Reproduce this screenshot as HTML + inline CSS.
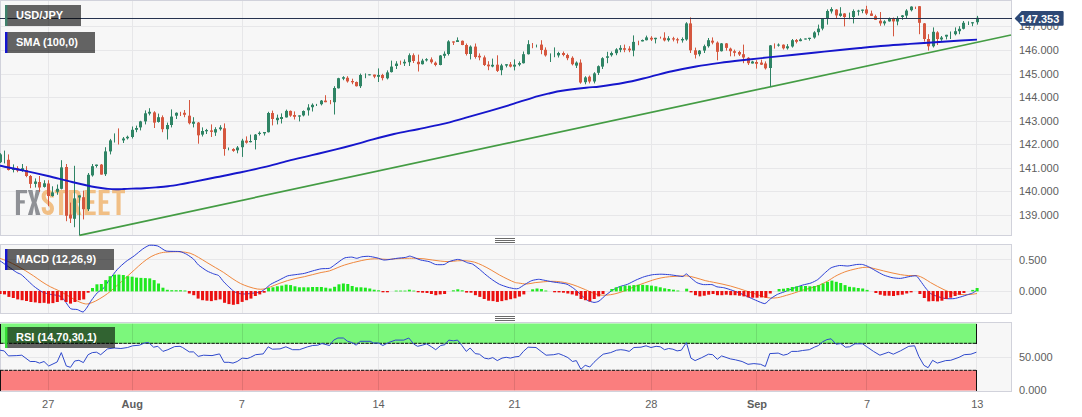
<!DOCTYPE html>
<html><head><meta charset="utf-8"><title>USD/JPY</title>
<style>html,body{margin:0;padding:0;background:#fff;}body{width:1082px;height:417px;overflow:hidden;font-family:"Liberation Sans",sans-serif;}svg{display:block;}</style>
</head><body>
<svg width="1082" height="417" viewBox="0 0 1082 417">
<rect x="0" y="0" width="1082" height="417" fill="#fff"/>
<g fill="#f7f7f7" stroke="#d1d2db" stroke-width="1">
<rect x="0.5" y="0.5" width="1011" height="235"/>
<rect x="0.5" y="244.5" width="1011" height="69"/>
<rect x="0.5" y="322.5" width="1011" height="69"/>
</g>
<g stroke="#e7e7e9" stroke-width="1" shape-rendering="crispEdges">
<line x1="48.5" y1="1" x2="48.5" y2="235"/>
<line x1="48.5" y1="245" x2="48.5" y2="313"/>
<line x1="48.5" y1="323" x2="48.5" y2="391"/>
<line x1="132.5" y1="1" x2="132.5" y2="235"/>
<line x1="132.5" y1="245" x2="132.5" y2="313"/>
<line x1="132.5" y1="323" x2="132.5" y2="391"/>
<line x1="242.5" y1="1" x2="242.5" y2="235"/>
<line x1="242.5" y1="245" x2="242.5" y2="313"/>
<line x1="242.5" y1="323" x2="242.5" y2="391"/>
<line x1="378.5" y1="1" x2="378.5" y2="235"/>
<line x1="378.5" y1="245" x2="378.5" y2="313"/>
<line x1="378.5" y1="323" x2="378.5" y2="391"/>
<line x1="514.5" y1="1" x2="514.5" y2="235"/>
<line x1="514.5" y1="245" x2="514.5" y2="313"/>
<line x1="514.5" y1="323" x2="514.5" y2="391"/>
<line x1="651.5" y1="1" x2="651.5" y2="235"/>
<line x1="651.5" y1="245" x2="651.5" y2="313"/>
<line x1="651.5" y1="323" x2="651.5" y2="391"/>
<line x1="756.5" y1="1" x2="756.5" y2="235"/>
<line x1="756.5" y1="245" x2="756.5" y2="313"/>
<line x1="756.5" y1="323" x2="756.5" y2="391"/>
<line x1="866.5" y1="1" x2="866.5" y2="235"/>
<line x1="866.5" y1="245" x2="866.5" y2="313"/>
<line x1="866.5" y1="323" x2="866.5" y2="391"/>
<line x1="976.5" y1="1" x2="976.5" y2="235"/>
<line x1="976.5" y1="245" x2="976.5" y2="313"/>
<line x1="976.5" y1="323" x2="976.5" y2="391"/>
<line x1="1" y1="26.5" x2="1011" y2="26.5"/>
<line x1="1" y1="50.5" x2="1011" y2="50.5"/>
<line x1="1" y1="74.5" x2="1011" y2="74.5"/>
<line x1="1" y1="97.5" x2="1011" y2="97.5"/>
<line x1="1" y1="121.5" x2="1011" y2="121.5"/>
<line x1="1" y1="144.5" x2="1011" y2="144.5"/>
<line x1="1" y1="168.5" x2="1011" y2="168.5"/>
<line x1="1" y1="191.5" x2="1011" y2="191.5"/>
<line x1="1" y1="215.5" x2="1011" y2="215.5"/>
<line x1="1" y1="259.5" x2="1011" y2="259.5"/>
<line x1="1" y1="291.5" x2="1011" y2="291.5"/>
<line x1="1" y1="357.5" x2="1011" y2="357.5"/>
</g>
<g fill="#6b6b6b" shape-rendering="crispEdges">
<rect x="495" y="238" width="20" height="1"/>
<rect x="495" y="240" width="20" height="1"/>
<rect x="495" y="242" width="20" height="1"/>
<rect x="495" y="316" width="20" height="1"/>
<rect x="495" y="318" width="20" height="1"/>
<rect x="495" y="320" width="20" height="1"/>
</g>
<path transform="translate(15.9,189.9)" d="M0,0 H11.2 V3.4 H4.1 V10.3 H8.899999999999999 V13.7 H4.1 V25 H0 Z" fill="#8f9196" fill-rule="evenodd"/>
<path transform="translate(27.9,189.9)" d="M0,0 H4.6 L6.25,9 L7.9,0 H12.5 L8.55,12.5 L12.5,25 H7.9 L6.25,16 L4.6,25 H0 L3.95,12.5 Z" fill="#8f9196" fill-rule="evenodd"/>
<path transform="translate(41.6,189.9)" d="M10.350000000000001,7.6 C10.350000000000001,3.6 8.5,2 6.2,2 C3.5,2 2.05,3.8 2.05,6.6 C2.05,9.6 4.0,11 6.2,12.5 C8.5,14 10.350000000000001,15.5 10.350000000000001,18.5 C10.350000000000001,21.4 8.8,23 6.2,23 C3.5,23 2.05,21.3 2.05,17.4" fill="none" stroke="#f1bf85" stroke-width="4.1"/>
<path transform="translate(54.7,189.9)" d="M0,0 H12.8 V3.4 H8.45 V25 H4.3500000000000005 V3.4 H0 Z" fill="#f1bf85" fill-rule="evenodd"/>
<path transform="translate(68.8,189.9)" d="M0,0 H7.199999999999999 C10.6,0 12.2,2.6 12.2,7 C12.2,10.4 11.0,12.6 8.799999999999999,13.6 L12.7,25 H8.299999999999999 L4.9,14.2 H4.1 V25 H0 Z M4.1,3.4 V10.8 H6.6 C7.8999999999999995,10.8 8.1,9 8.1,7.1 C8.1,5 7.799999999999999,3.4 6.6,3.4 Z" fill="#f1bf85" fill-rule="evenodd"/>
<path transform="translate(84.5,189.9)" d="M0,0 H11.2 V3.4 H4.1 V10.4 H9.799999999999999 V13.8 H4.1 V21.6 H11.2 V25 H0 Z" fill="#f1bf85" fill-rule="evenodd"/>
<path transform="translate(98.7,189.9)" d="M0,0 H10.9 V3.4 H4.1 V10.4 H9.5 V13.8 H4.1 V21.6 H10.9 V25 H0 Z" fill="#f1bf85" fill-rule="evenodd"/>
<path transform="translate(112.1,189.9)" d="M0,0 H12.9 V3.4 H8.5 V25 H4.4 V3.4 H0 Z" fill="#f1bf85" fill-rule="evenodd"/>
<rect x="1" y="323.5" width="975.5" height="20" fill="#7cf77c"/>
<rect x="1" y="370.5" width="975.5" height="20" fill="#fa7e7e"/>
<g stroke="#000" stroke-opacity="0.1" stroke-width="1" shape-rendering="crispEdges">
<line x1="48.5" y1="324" x2="48.5" y2="343"/>
<line x1="48.5" y1="371" x2="48.5" y2="390"/>
<line x1="132.5" y1="324" x2="132.5" y2="343"/>
<line x1="132.5" y1="371" x2="132.5" y2="390"/>
<line x1="242.5" y1="324" x2="242.5" y2="343"/>
<line x1="242.5" y1="371" x2="242.5" y2="390"/>
<line x1="378.5" y1="324" x2="378.5" y2="343"/>
<line x1="378.5" y1="371" x2="378.5" y2="390"/>
<line x1="514.5" y1="324" x2="514.5" y2="343"/>
<line x1="514.5" y1="371" x2="514.5" y2="390"/>
<line x1="651.5" y1="324" x2="651.5" y2="343"/>
<line x1="651.5" y1="371" x2="651.5" y2="390"/>
<line x1="756.5" y1="324" x2="756.5" y2="343"/>
<line x1="756.5" y1="371" x2="756.5" y2="390"/>
<line x1="866.5" y1="324" x2="866.5" y2="343"/>
<line x1="866.5" y1="371" x2="866.5" y2="390"/>
</g>
<g stroke="#000" stroke-opacity="0.78" stroke-width="1.1">
<line x1="0.2" y1="343.4" x2="977" y2="343.4" stroke-dasharray="3.4,1"/>
<line x1="0.2" y1="370.4" x2="977" y2="370.4" stroke-dasharray="3.4,1"/>
</g>
<g stroke="#111" stroke-width="1" shape-rendering="crispEdges">
<line x1="976.5" y1="323.5" x2="976.5" y2="344"/>
<line x1="976.5" y1="370" x2="976.5" y2="391"/>
<line x1="0.5" y1="323.5" x2="0.5" y2="344"/>
<line x1="0.5" y1="370" x2="0.5" y2="391"/>
</g>
<line x1="79.3" y1="235.3" x2="1011" y2="35" stroke="#449c44" stroke-width="1.7"/>
<rect x="0" y="153.2" width="1" height="9.8" fill="#2f8465"/>
<rect x="-1" y="154.4" width="3" height="7.8" fill="#2f8465"/>
<rect x="4" y="150.6" width="1" height="12.8" fill="#2f8465"/>
<rect x="8" y="154.4" width="1" height="16.1" fill="#d5573f"/>
<rect x="7" y="159.8" width="3" height="10.2" fill="#d5573f"/>
<rect x="13" y="164.4" width="1" height="8" fill="#2f8465"/>
<rect x="12" y="168.2" width="3" height="1.8" fill="#2f8465"/>
<rect x="17" y="166.2" width="1" height="6" fill="#d5573f"/>
<rect x="16" y="168.2" width="3" height="2.4" fill="#d5573f"/>
<rect x="22" y="164" width="1" height="7.8" fill="#2f8465"/>
<rect x="21" y="168.2" width="3" height="1.8" fill="#2f8465"/>
<rect x="26" y="166.2" width="1" height="11" fill="#d5573f"/>
<rect x="25" y="170" width="3" height="6" fill="#d5573f"/>
<rect x="30" y="175" width="1" height="13.2" fill="#d5573f"/>
<rect x="29" y="176" width="3" height="7.9" fill="#d5573f"/>
<rect x="35" y="178.4" width="1" height="9.1" fill="#2f8465"/>
<rect x="34" y="181.5" width="3" height="2.4" fill="#2f8465"/>
<rect x="39" y="176" width="1" height="15.8" fill="#d5573f"/>
<rect x="38" y="182" width="3" height="5.5" fill="#d5573f"/>
<rect x="44" y="180.2" width="1" height="7.4" fill="#2f8465"/>
<rect x="43" y="183.3" width="3" height="3.6" fill="#2f8465"/>
<rect x="48" y="180.2" width="1" height="26" fill="#d5573f"/>
<rect x="47" y="183.5" width="3" height="12.5" fill="#d5573f"/>
<rect x="52" y="186.3" width="1" height="10.3" fill="#2f8465"/>
<rect x="51" y="192.4" width="3" height="3.6" fill="#2f8465"/>
<rect x="57" y="184.5" width="1" height="10.3" fill="#2f8465"/>
<rect x="56" y="188.8" width="3" height="3" fill="#2f8465"/>
<rect x="61" y="160.2" width="1" height="29.2" fill="#2f8465"/>
<rect x="60" y="167.4" width="3" height="21.4" fill="#2f8465"/>
<rect x="66" y="164" width="1" height="57.2" fill="#d5573f"/>
<rect x="65" y="167" width="3" height="48.8" fill="#d5573f"/>
<rect x="70" y="202.6" width="1" height="20.4" fill="#d5573f"/>
<rect x="69" y="214.6" width="3" height="3.9" fill="#d5573f"/>
<rect x="74" y="165.8" width="1" height="61.4" fill="#2f8465"/>
<rect x="73" y="198.4" width="3" height="20.4" fill="#2f8465"/>
<rect x="79" y="195.4" width="1" height="39.6" fill="#2f8465"/>
<rect x="78" y="195.4" width="3" height="2.1" fill="#2f8465"/>
<rect x="83" y="190.6" width="1" height="28.8" fill="#d5573f"/>
<rect x="82" y="197.2" width="3" height="12" fill="#d5573f"/>
<rect x="88" y="173" width="1" height="38" fill="#2f8465"/>
<rect x="87" y="174.8" width="3" height="34.4" fill="#2f8465"/>
<rect x="92" y="164" width="1" height="12.6" fill="#2f8465"/>
<rect x="91" y="166.2" width="3" height="9.2" fill="#2f8465"/>
<rect x="96" y="164.6" width="1" height="3" fill="#2f8465"/>
<rect x="95" y="164.6" width="3" height="1.4" fill="#2f8465"/>
<rect x="101" y="164" width="1" height="10.6" fill="#d5573f"/>
<rect x="100" y="164.6" width="3" height="10" fill="#d5573f"/>
<rect x="105" y="147.2" width="1" height="28.8" fill="#2f8465"/>
<rect x="104" y="151.4" width="3" height="22.8" fill="#2f8465"/>
<rect x="110" y="138.9" width="1" height="15.5" fill="#2f8465"/>
<rect x="109" y="140.4" width="3" height="11" fill="#2f8465"/>
<rect x="114" y="133.4" width="1" height="9.1" fill="#2f8465"/>
<rect x="118" y="128.4" width="1" height="16.1" fill="#d5573f"/>
<rect x="123" y="137" width="1" height="6" fill="#2f8465"/>
<rect x="122" y="138.5" width="3" height="1.9" fill="#2f8465"/>
<rect x="127" y="135.6" width="1" height="3.9" fill="#2f8465"/>
<rect x="126" y="136.8" width="3" height="1.5" fill="#2f8465"/>
<rect x="132" y="126.5" width="1" height="12" fill="#2f8465"/>
<rect x="131" y="129.8" width="3" height="7.2" fill="#2f8465"/>
<rect x="136" y="125.6" width="1" height="6.6" fill="#2f8465"/>
<rect x="135" y="128" width="3" height="1.8" fill="#2f8465"/>
<rect x="140" y="120.8" width="1" height="9.6" fill="#2f8465"/>
<rect x="139" y="121.4" width="3" height="6" fill="#2f8465"/>
<rect x="145" y="110.4" width="1" height="14" fill="#2f8465"/>
<rect x="144" y="113.3" width="3" height="8.1" fill="#2f8465"/>
<rect x="149" y="108.2" width="1" height="7.2" fill="#2f8465"/>
<rect x="148" y="111.8" width="3" height="1.8" fill="#2f8465"/>
<rect x="154" y="111.2" width="1" height="16.8" fill="#d5573f"/>
<rect x="153" y="112.4" width="3" height="10.2" fill="#d5573f"/>
<rect x="158" y="113.6" width="1" height="9" fill="#2f8465"/>
<rect x="157" y="117.2" width="3" height="4.8" fill="#2f8465"/>
<rect x="162" y="115.4" width="1" height="16.8" fill="#d5573f"/>
<rect x="161" y="117.2" width="3" height="12" fill="#d5573f"/>
<rect x="167" y="122.6" width="1" height="16.9" fill="#2f8465"/>
<rect x="166" y="125" width="3" height="4.2" fill="#2f8465"/>
<rect x="171" y="109.4" width="1" height="18" fill="#2f8465"/>
<rect x="170" y="116.6" width="3" height="8.4" fill="#2f8465"/>
<rect x="176" y="112.4" width="1" height="6.6" fill="#2f8465"/>
<rect x="175" y="112.8" width="3" height="2.9" fill="#2f8465"/>
<rect x="180" y="111.8" width="1" height="4.2" fill="#d5573f"/>
<rect x="184" y="110" width="1" height="7.2" fill="#d5573f"/>
<rect x="183" y="112.8" width="3" height="2" fill="#d5573f"/>
<rect x="189" y="100" width="1" height="24.4" fill="#d5573f"/>
<rect x="188" y="115.7" width="3" height="7.5" fill="#d5573f"/>
<rect x="193" y="117.2" width="1" height="10.2" fill="#2f8465"/>
<rect x="192" y="121.7" width="3" height="2.1" fill="#2f8465"/>
<rect x="198" y="122" width="1" height="21.7" fill="#d5573f"/>
<rect x="197" y="122.6" width="3" height="12.7" fill="#d5573f"/>
<rect x="202" y="127.4" width="1" height="9.1" fill="#2f8465"/>
<rect x="201" y="131" width="3" height="3.6" fill="#2f8465"/>
<rect x="206" y="128.9" width="1" height="5.1" fill="#2f8465"/>
<rect x="205" y="130" width="3" height="1.3" fill="#2f8465"/>
<rect x="211" y="124.4" width="1" height="12.6" fill="#d5573f"/>
<rect x="210" y="130.4" width="3" height="1.5" fill="#d5573f"/>
<rect x="215" y="127.2" width="1" height="8.7" fill="#2f8465"/>
<rect x="214" y="129.2" width="3" height="3.3" fill="#2f8465"/>
<rect x="220" y="125.2" width="1" height="5.4" fill="#2f8465"/>
<rect x="219" y="127.4" width="3" height="1.8" fill="#2f8465"/>
<rect x="224" y="123.4" width="1" height="32.3" fill="#d5573f"/>
<rect x="223" y="128.3" width="3" height="20.7" fill="#d5573f"/>
<rect x="228" y="147.5" width="1" height="2.8" fill="#2f8465"/>
<rect x="233" y="148.2" width="1" height="3.6" fill="#d5573f"/>
<rect x="232" y="149" width="3" height="1.9" fill="#d5573f"/>
<rect x="237" y="146" width="1" height="7.3" fill="#2f8465"/>
<rect x="236" y="147.5" width="3" height="2.8" fill="#2f8465"/>
<rect x="242" y="138.8" width="1" height="18.1" fill="#2f8465"/>
<rect x="241" y="140.6" width="3" height="6.6" fill="#2f8465"/>
<rect x="246" y="136.4" width="1" height="7.2" fill="#d5573f"/>
<rect x="245" y="140.6" width="3" height="2.1" fill="#d5573f"/>
<rect x="250" y="134.6" width="1" height="7.8" fill="#2f8465"/>
<rect x="249" y="141" width="3" height="1.2" fill="#2f8465"/>
<rect x="255" y="134" width="1" height="15.4" fill="#2f8465"/>
<rect x="254" y="134.6" width="3" height="5.4" fill="#2f8465"/>
<rect x="259" y="131.4" width="1" height="4.1" fill="#2f8465"/>
<rect x="258" y="132.8" width="3" height="1.2" fill="#2f8465"/>
<rect x="264" y="132" width="1" height="3.5" fill="#2f8465"/>
<rect x="263" y="132" width="3" height="1.4" fill="#2f8465"/>
<rect x="268" y="111.8" width="1" height="20.7" fill="#2f8465"/>
<rect x="267" y="113" width="3" height="19.2" fill="#2f8465"/>
<rect x="272" y="110.6" width="1" height="14.8" fill="#d5573f"/>
<rect x="271" y="113" width="3" height="6" fill="#d5573f"/>
<rect x="277" y="114.6" width="1" height="9.8" fill="#2f8465"/>
<rect x="276" y="117.8" width="3" height="2.4" fill="#2f8465"/>
<rect x="281" y="113.4" width="1" height="10.1" fill="#2f8465"/>
<rect x="280" y="117" width="3" height="2" fill="#2f8465"/>
<rect x="286" y="109.6" width="1" height="7.9" fill="#2f8465"/>
<rect x="285" y="110.9" width="3" height="6.5" fill="#2f8465"/>
<rect x="290" y="110.5" width="1" height="6.3" fill="#d5573f"/>
<rect x="289" y="110.9" width="3" height="4.7" fill="#d5573f"/>
<rect x="294" y="111.4" width="1" height="8.1" fill="#d5573f"/>
<rect x="293" y="115" width="3" height="1.8" fill="#d5573f"/>
<rect x="299" y="115.4" width="1" height="6" fill="#2f8465"/>
<rect x="298" y="115.4" width="3" height="1.2" fill="#2f8465"/>
<rect x="303" y="110.4" width="1" height="6" fill="#2f8465"/>
<rect x="302" y="111" width="3" height="4.4" fill="#2f8465"/>
<rect x="308" y="104.2" width="1" height="11.4" fill="#2f8465"/>
<rect x="307" y="107.5" width="3" height="2.8" fill="#2f8465"/>
<rect x="312" y="103.4" width="1" height="8.1" fill="#2f8465"/>
<rect x="311" y="104.8" width="3" height="2.4" fill="#2f8465"/>
<rect x="316" y="103.9" width="1" height="2.1" fill="#2f8465"/>
<rect x="321" y="100" width="1" height="5.4" fill="#2f8465"/>
<rect x="320" y="100.6" width="3" height="3.6" fill="#2f8465"/>
<rect x="325" y="95.2" width="1" height="7" fill="#d5573f"/>
<rect x="324" y="100.6" width="3" height="1.6" fill="#d5573f"/>
<rect x="330" y="100" width="1" height="4.2" fill="#d5573f"/>
<rect x="334" y="86.2" width="1" height="28.3" fill="#2f8465"/>
<rect x="333" y="88" width="3" height="14.2" fill="#2f8465"/>
<rect x="338" y="77.8" width="1" height="10.7" fill="#2f8465"/>
<rect x="337" y="78.2" width="3" height="10.1" fill="#2f8465"/>
<rect x="343" y="76.2" width="1" height="4" fill="#2f8465"/>
<rect x="342" y="77.2" width="3" height="1.5" fill="#2f8465"/>
<rect x="347" y="76.2" width="1" height="6.4" fill="#d5573f"/>
<rect x="346" y="77.8" width="3" height="3.6" fill="#d5573f"/>
<rect x="352" y="78.7" width="1" height="5.5" fill="#d5573f"/>
<rect x="351" y="81" width="3" height="1.3" fill="#d5573f"/>
<rect x="356" y="81.5" width="1" height="5" fill="#d5573f"/>
<rect x="355" y="82" width="3" height="4.2" fill="#d5573f"/>
<rect x="360" y="73.6" width="1" height="14.4" fill="#2f8465"/>
<rect x="359" y="75" width="3" height="11.2" fill="#2f8465"/>
<rect x="365" y="73.4" width="1" height="4.8" fill="#2f8465"/>
<rect x="369" y="74.3" width="1" height="1" fill="#2f8465"/>
<rect x="368" y="74.3" width="3" height="1" fill="#2f8465"/>
<rect x="374" y="74.6" width="1" height="3.6" fill="#d5573f"/>
<rect x="373" y="74.6" width="3" height="2" fill="#d5573f"/>
<rect x="378" y="68.4" width="1" height="13.6" fill="#2f8465"/>
<rect x="377" y="75" width="3" height="1.8" fill="#2f8465"/>
<rect x="382" y="73.8" width="1" height="6.6" fill="#d5573f"/>
<rect x="381" y="75" width="3" height="3.1" fill="#d5573f"/>
<rect x="387" y="70.4" width="1" height="9" fill="#2f8465"/>
<rect x="386" y="72.4" width="3" height="5.9" fill="#2f8465"/>
<rect x="391" y="60.6" width="1" height="11.9" fill="#2f8465"/>
<rect x="390" y="66.6" width="3" height="5.5" fill="#2f8465"/>
<rect x="396" y="61.2" width="1" height="7.8" fill="#2f8465"/>
<rect x="395" y="63.6" width="3" height="2.4" fill="#2f8465"/>
<rect x="400" y="60.6" width="1" height="4.2" fill="#d5573f"/>
<rect x="404" y="59.4" width="1" height="6.6" fill="#2f8465"/>
<rect x="403" y="61.8" width="3" height="1.6" fill="#2f8465"/>
<rect x="409" y="53.4" width="1" height="12.6" fill="#2f8465"/>
<rect x="408" y="55.2" width="3" height="7" fill="#2f8465"/>
<rect x="413" y="53.4" width="1" height="9.6" fill="#d5573f"/>
<rect x="412" y="55.2" width="3" height="5.8" fill="#d5573f"/>
<rect x="418" y="54.6" width="1" height="16.9" fill="#d5573f"/>
<rect x="417" y="61.8" width="3" height="2.4" fill="#d5573f"/>
<rect x="422" y="58.8" width="1" height="5.7" fill="#2f8465"/>
<rect x="421" y="60.6" width="3" height="3.6" fill="#2f8465"/>
<rect x="426" y="58.2" width="1" height="3.3" fill="#2f8465"/>
<rect x="425" y="59.2" width="3" height="1.2" fill="#2f8465"/>
<rect x="431" y="57.4" width="1" height="6.2" fill="#d5573f"/>
<rect x="430" y="59.4" width="3" height="2.8" fill="#d5573f"/>
<rect x="435" y="61.5" width="1" height="4.8" fill="#d5573f"/>
<rect x="434" y="62.7" width="3" height="2.3" fill="#d5573f"/>
<rect x="440" y="55" width="1" height="10.3" fill="#2f8465"/>
<rect x="439" y="55.5" width="3" height="9.5" fill="#2f8465"/>
<rect x="444" y="51.4" width="1" height="6.8" fill="#2f8465"/>
<rect x="443" y="53.8" width="3" height="2" fill="#2f8465"/>
<rect x="448" y="40.2" width="1" height="15.3" fill="#2f8465"/>
<rect x="447" y="41.4" width="3" height="12.6" fill="#2f8465"/>
<rect x="453" y="41.4" width="1" height="3.6" fill="#d5573f"/>
<rect x="452" y="41.4" width="3" height="1.2" fill="#d5573f"/>
<rect x="457" y="37.4" width="1" height="4.6" fill="#2f8465"/>
<rect x="456" y="40.2" width="3" height="1.8" fill="#2f8465"/>
<rect x="462" y="40.5" width="1" height="4.7" fill="#d5573f"/>
<rect x="461" y="40.8" width="3" height="4.2" fill="#d5573f"/>
<rect x="466" y="43.5" width="1" height="12" fill="#d5573f"/>
<rect x="465" y="45" width="3" height="9" fill="#d5573f"/>
<rect x="470" y="45.4" width="1" height="14" fill="#2f8465"/>
<rect x="469" y="46.6" width="3" height="7.4" fill="#2f8465"/>
<rect x="475" y="43.5" width="1" height="15.1" fill="#d5573f"/>
<rect x="474" y="46.6" width="3" height="10.4" fill="#d5573f"/>
<rect x="479" y="53.4" width="1" height="6.9" fill="#d5573f"/>
<rect x="478" y="55.8" width="3" height="1.6" fill="#d5573f"/>
<rect x="484" y="55.5" width="1" height="10.5" fill="#d5573f"/>
<rect x="483" y="57.4" width="3" height="7.6" fill="#d5573f"/>
<rect x="488" y="61.2" width="1" height="9" fill="#d5573f"/>
<rect x="487" y="64.6" width="3" height="1.7" fill="#d5573f"/>
<rect x="492" y="58.6" width="1" height="8.7" fill="#2f8465"/>
<rect x="491" y="64.8" width="3" height="1.7" fill="#2f8465"/>
<rect x="497" y="55.3" width="1" height="16.7" fill="#d5573f"/>
<rect x="496" y="64.7" width="3" height="6.2" fill="#d5573f"/>
<rect x="501" y="63.8" width="1" height="11.4" fill="#2f8465"/>
<rect x="500" y="65.4" width="3" height="4.8" fill="#2f8465"/>
<rect x="506" y="64.2" width="1" height="3.2" fill="#2f8465"/>
<rect x="505" y="64.2" width="3" height="1.4" fill="#2f8465"/>
<rect x="510" y="62" width="1" height="5.4" fill="#d5573f"/>
<rect x="509" y="64.4" width="3" height="2.2" fill="#d5573f"/>
<rect x="514" y="59.4" width="1" height="11" fill="#2f8465"/>
<rect x="513" y="64.7" width="3" height="1.9" fill="#2f8465"/>
<rect x="519" y="61.4" width="1" height="4.8" fill="#2f8465"/>
<rect x="518" y="63" width="3" height="1.7" fill="#2f8465"/>
<rect x="523" y="51.5" width="1" height="12" fill="#2f8465"/>
<rect x="522" y="54.2" width="3" height="9" fill="#2f8465"/>
<rect x="528" y="40.2" width="1" height="14.3" fill="#2f8465"/>
<rect x="527" y="44.2" width="3" height="10" fill="#2f8465"/>
<rect x="532" y="43" width="1" height="5.2" fill="#d5573f"/>
<rect x="536" y="44.6" width="1" height="2.8" fill="#2f8465"/>
<rect x="541" y="40.2" width="1" height="14" fill="#d5573f"/>
<rect x="540" y="44.6" width="3" height="5.4" fill="#d5573f"/>
<rect x="545" y="47.4" width="1" height="9.2" fill="#d5573f"/>
<rect x="544" y="49.8" width="3" height="5.6" fill="#d5573f"/>
<rect x="550" y="53.4" width="1" height="8.6" fill="#2f8465"/>
<rect x="554" y="47.4" width="1" height="9.8" fill="#2f8465"/>
<rect x="558" y="51.8" width="1" height="5.7" fill="#2f8465"/>
<rect x="557" y="53" width="3" height="2.4" fill="#2f8465"/>
<rect x="563" y="51.5" width="1" height="4.8" fill="#d5573f"/>
<rect x="562" y="53" width="3" height="2" fill="#d5573f"/>
<rect x="567" y="53.6" width="1" height="6.6" fill="#d5573f"/>
<rect x="566" y="55" width="3" height="3.2" fill="#d5573f"/>
<rect x="572" y="56.3" width="1" height="9.1" fill="#d5573f"/>
<rect x="571" y="57.8" width="3" height="6.4" fill="#d5573f"/>
<rect x="576" y="61.4" width="1" height="6.6" fill="#2f8465"/>
<rect x="575" y="62.6" width="3" height="3" fill="#2f8465"/>
<rect x="580" y="59.4" width="1" height="24.3" fill="#d5573f"/>
<rect x="579" y="62.6" width="3" height="19.9" fill="#d5573f"/>
<rect x="585" y="76.2" width="1" height="8.1" fill="#2f8465"/>
<rect x="584" y="77.4" width="3" height="4.8" fill="#2f8465"/>
<rect x="589" y="75.5" width="1" height="7.9" fill="#d5573f"/>
<rect x="588" y="76.7" width="3" height="4.8" fill="#d5573f"/>
<rect x="594" y="72.2" width="1" height="11.2" fill="#2f8465"/>
<rect x="593" y="73.4" width="3" height="8.1" fill="#2f8465"/>
<rect x="598" y="65.4" width="1" height="9.6" fill="#2f8465"/>
<rect x="597" y="66.2" width="3" height="6.6" fill="#2f8465"/>
<rect x="602" y="57.2" width="1" height="11.8" fill="#2f8465"/>
<rect x="601" y="58.2" width="3" height="8.4" fill="#2f8465"/>
<rect x="607" y="51.8" width="1" height="11.4" fill="#2f8465"/>
<rect x="606" y="56.3" width="3" height="1.5" fill="#2f8465"/>
<rect x="611" y="51.5" width="1" height="5.1" fill="#2f8465"/>
<rect x="610" y="53" width="3" height="2.2" fill="#2f8465"/>
<rect x="616" y="48.2" width="1" height="7" fill="#2f8465"/>
<rect x="615" y="49.4" width="3" height="3.8" fill="#2f8465"/>
<rect x="620" y="45.2" width="1" height="7" fill="#2f8465"/>
<rect x="619" y="47.9" width="3" height="1.9" fill="#2f8465"/>
<rect x="624" y="44.6" width="1" height="7.6" fill="#d5573f"/>
<rect x="623" y="48.2" width="3" height="1.6" fill="#d5573f"/>
<rect x="629" y="46.2" width="1" height="6" fill="#d5573f"/>
<rect x="628" y="48.6" width="3" height="1.7" fill="#d5573f"/>
<rect x="633" y="35.4" width="1" height="20.9" fill="#2f8465"/>
<rect x="632" y="41.9" width="3" height="8.7" fill="#2f8465"/>
<rect x="638" y="40.7" width="1" height="4.5" fill="#d5573f"/>
<rect x="642" y="39.5" width="1" height="1.9" fill="#2f8465"/>
<rect x="641" y="40" width="3" height="1.4" fill="#2f8465"/>
<rect x="646" y="35.6" width="1" height="4.8" fill="#2f8465"/>
<rect x="645" y="37.4" width="3" height="2.8" fill="#2f8465"/>
<rect x="651" y="36.2" width="1" height="4.8" fill="#d5573f"/>
<rect x="650" y="37.8" width="3" height="1.7" fill="#d5573f"/>
<rect x="655" y="37.8" width="1" height="5.6" fill="#2f8465"/>
<rect x="654" y="37.8" width="3" height="1.4" fill="#2f8465"/>
<rect x="660" y="36.6" width="1" height="2" fill="#d5573f"/>
<rect x="664" y="32.3" width="1" height="9.1" fill="#d5573f"/>
<rect x="663" y="37.8" width="3" height="2.6" fill="#d5573f"/>
<rect x="668" y="36.2" width="1" height="5.4" fill="#2f8465"/>
<rect x="667" y="38.3" width="3" height="1.9" fill="#2f8465"/>
<rect x="673" y="36.8" width="1" height="4.6" fill="#d5573f"/>
<rect x="672" y="38.3" width="3" height="1.2" fill="#d5573f"/>
<rect x="677" y="37.8" width="1" height="5.6" fill="#d5573f"/>
<rect x="676" y="39.2" width="3" height="1.2" fill="#d5573f"/>
<rect x="682" y="37.4" width="1" height="5.2" fill="#2f8465"/>
<rect x="681" y="39" width="3" height="1.4" fill="#2f8465"/>
<rect x="686" y="22.2" width="1" height="18.5" fill="#2f8465"/>
<rect x="685" y="23.4" width="3" height="16.1" fill="#2f8465"/>
<rect x="690" y="17.4" width="1" height="35.6" fill="#d5573f"/>
<rect x="689" y="23.4" width="3" height="26.9" fill="#d5573f"/>
<rect x="695" y="47.6" width="1" height="10.9" fill="#d5573f"/>
<rect x="694" y="50.3" width="3" height="4.5" fill="#d5573f"/>
<rect x="699" y="50" width="1" height="6.3" fill="#2f8465"/>
<rect x="698" y="50.6" width="3" height="3.6" fill="#2f8465"/>
<rect x="704" y="44.6" width="1" height="8.4" fill="#2f8465"/>
<rect x="703" y="46.2" width="3" height="4.4" fill="#2f8465"/>
<rect x="708" y="38" width="1" height="9.6" fill="#2f8465"/>
<rect x="707" y="40.2" width="3" height="6" fill="#2f8465"/>
<rect x="712" y="37.4" width="1" height="6.9" fill="#d5573f"/>
<rect x="711" y="40.7" width="3" height="1.9" fill="#d5573f"/>
<rect x="717" y="41.4" width="1" height="18.9" fill="#d5573f"/>
<rect x="716" y="42.6" width="3" height="9.2" fill="#d5573f"/>
<rect x="721" y="43" width="1" height="8.5" fill="#2f8465"/>
<rect x="720" y="43.4" width="3" height="7.8" fill="#2f8465"/>
<rect x="726" y="43" width="1" height="7.6" fill="#d5573f"/>
<rect x="725" y="43.4" width="3" height="4.5" fill="#d5573f"/>
<rect x="730" y="47.6" width="1" height="8.7" fill="#d5573f"/>
<rect x="729" y="48.6" width="3" height="2.6" fill="#d5573f"/>
<rect x="734" y="49.6" width="1" height="6.7" fill="#d5573f"/>
<rect x="733" y="51.2" width="3" height="1.6" fill="#d5573f"/>
<rect x="739" y="50.8" width="1" height="5.2" fill="#d5573f"/>
<rect x="738" y="52" width="3" height="2.5" fill="#d5573f"/>
<rect x="743" y="44.6" width="1" height="18.6" fill="#d5573f"/>
<rect x="742" y="54.2" width="3" height="3.3" fill="#d5573f"/>
<rect x="748" y="57.2" width="1" height="7.8" fill="#d5573f"/>
<rect x="747" y="57.8" width="3" height="5.4" fill="#d5573f"/>
<rect x="752" y="60.8" width="1" height="2.7" fill="#2f8465"/>
<rect x="751" y="61.5" width="3" height="2" fill="#2f8465"/>
<rect x="756" y="60.2" width="1" height="8.4" fill="#d5573f"/>
<rect x="755" y="62" width="3" height="1.8" fill="#d5573f"/>
<rect x="761" y="59.6" width="1" height="5.4" fill="#d5573f"/>
<rect x="760" y="62.6" width="3" height="2.1" fill="#d5573f"/>
<rect x="765" y="61.4" width="1" height="8.1" fill="#d5573f"/>
<rect x="764" y="63.5" width="3" height="4.8" fill="#d5573f"/>
<rect x="770" y="45" width="1" height="41.8" fill="#2f8465"/>
<rect x="769" y="45.4" width="3" height="22.6" fill="#2f8465"/>
<rect x="774" y="43.4" width="1" height="5.2" fill="#d5573f"/>
<rect x="778" y="43.4" width="1" height="3.2" fill="#2f8465"/>
<rect x="777" y="44.6" width="3" height="1" fill="#2f8465"/>
<rect x="783" y="44.4" width="1" height="5.1" fill="#d5573f"/>
<rect x="782" y="44.7" width="3" height="3.6" fill="#d5573f"/>
<rect x="787" y="44.1" width="1" height="5.5" fill="#2f8465"/>
<rect x="786" y="46.3" width="3" height="2" fill="#2f8465"/>
<rect x="792" y="39" width="1" height="8.6" fill="#2f8465"/>
<rect x="791" y="40.2" width="3" height="6.3" fill="#2f8465"/>
<rect x="796" y="39" width="1" height="4.4" fill="#d5573f"/>
<rect x="795" y="40" width="3" height="1.8" fill="#d5573f"/>
<rect x="800" y="38.2" width="1" height="3.1" fill="#2f8465"/>
<rect x="799" y="39.4" width="3" height="1.7" fill="#2f8465"/>
<rect x="805" y="38.5" width="1" height="1" fill="#2f8465"/>
<rect x="804" y="38.5" width="3" height="1" fill="#2f8465"/>
<rect x="809" y="37.8" width="1" height="2.8" fill="#2f8465"/>
<rect x="808" y="37.8" width="3" height="1.2" fill="#2f8465"/>
<rect x="814" y="31.2" width="1" height="7.5" fill="#2f8465"/>
<rect x="813" y="32.4" width="3" height="5.1" fill="#2f8465"/>
<rect x="818" y="24.6" width="1" height="10.8" fill="#2f8465"/>
<rect x="817" y="28.6" width="3" height="3.6" fill="#2f8465"/>
<rect x="822" y="18.2" width="1" height="12.1" fill="#2f8465"/>
<rect x="821" y="18.6" width="3" height="10" fill="#2f8465"/>
<rect x="827" y="9.4" width="1" height="15.2" fill="#2f8465"/>
<rect x="826" y="11" width="3" height="7.3" fill="#2f8465"/>
<rect x="831" y="7.2" width="1" height="6.3" fill="#2f8465"/>
<rect x="830" y="9" width="3" height="2.4" fill="#2f8465"/>
<rect x="836" y="9.2" width="1" height="8.8" fill="#d5573f"/>
<rect x="835" y="9.6" width="3" height="5.8" fill="#d5573f"/>
<rect x="840" y="7.2" width="1" height="9.6" fill="#2f8465"/>
<rect x="839" y="13.5" width="3" height="2.4" fill="#2f8465"/>
<rect x="844" y="13.2" width="1" height="13.2" fill="#d5573f"/>
<rect x="843" y="13.5" width="3" height="3.5" fill="#d5573f"/>
<rect x="849" y="12.6" width="1" height="6.6" fill="#2f8465"/>
<rect x="853" y="9.4" width="1" height="14" fill="#2f8465"/>
<rect x="852" y="11" width="3" height="6" fill="#2f8465"/>
<rect x="858" y="9.8" width="1" height="5.8" fill="#2f8465"/>
<rect x="857" y="10.6" width="3" height="1" fill="#2f8465"/>
<rect x="862" y="9.6" width="1" height="3.6" fill="#2f8465"/>
<rect x="861" y="9.6" width="3" height="1.2" fill="#2f8465"/>
<rect x="866" y="5.8" width="1" height="9.2" fill="#d5573f"/>
<rect x="865" y="9.4" width="3" height="4.1" fill="#d5573f"/>
<rect x="871" y="10.6" width="1" height="5.4" fill="#d5573f"/>
<rect x="870" y="13.5" width="3" height="2.4" fill="#d5573f"/>
<rect x="875" y="14.7" width="1" height="5.3" fill="#d5573f"/>
<rect x="874" y="16.2" width="3" height="3.6" fill="#d5573f"/>
<rect x="880" y="12" width="1" height="13.8" fill="#d5573f"/>
<rect x="879" y="20.7" width="3" height="2.7" fill="#d5573f"/>
<rect x="884" y="20.2" width="1" height="5.3" fill="#2f8465"/>
<rect x="883" y="21.4" width="3" height="2" fill="#2f8465"/>
<rect x="889" y="17.5" width="1" height="4.1" fill="#2f8465"/>
<rect x="888" y="18" width="3" height="3.4" fill="#2f8465"/>
<rect x="893" y="17.5" width="1" height="18.8" fill="#d5573f"/>
<rect x="892" y="18" width="3" height="3.4" fill="#d5573f"/>
<rect x="897" y="16.2" width="1" height="9.1" fill="#2f8465"/>
<rect x="896" y="18" width="3" height="3.5" fill="#2f8465"/>
<rect x="902" y="15" width="1" height="4.8" fill="#2f8465"/>
<rect x="901" y="15.4" width="3" height="1.6" fill="#2f8465"/>
<rect x="906" y="9.2" width="1" height="9.6" fill="#2f8465"/>
<rect x="905" y="10.6" width="3" height="5" fill="#2f8465"/>
<rect x="911" y="6.3" width="1" height="5.1" fill="#2f8465"/>
<rect x="910" y="6.6" width="3" height="3.6" fill="#2f8465"/>
<rect x="915" y="6.6" width="1" height="2.4" fill="#d5573f"/>
<rect x="919" y="6" width="1" height="28.2" fill="#d5573f"/>
<rect x="918" y="6.2" width="3" height="16.6" fill="#d5573f"/>
<rect x="924" y="23" width="1" height="18.5" fill="#d5573f"/>
<rect x="923" y="23.4" width="3" height="15.6" fill="#d5573f"/>
<rect x="928" y="34.2" width="1" height="16.3" fill="#d5573f"/>
<rect x="927" y="39" width="3" height="7.3" fill="#d5573f"/>
<rect x="933" y="27.4" width="1" height="20.1" fill="#2f8465"/>
<rect x="932" y="31.8" width="3" height="14.5" fill="#2f8465"/>
<rect x="937" y="31.2" width="1" height="13.8" fill="#d5573f"/>
<rect x="936" y="32.4" width="3" height="6.6" fill="#d5573f"/>
<rect x="941" y="36" width="1" height="4.8" fill="#2f8465"/>
<rect x="940" y="37.5" width="3" height="1.9" fill="#2f8465"/>
<rect x="946" y="34.8" width="1" height="4.6" fill="#2f8465"/>
<rect x="945" y="34.8" width="3" height="1.8" fill="#2f8465"/>
<rect x="950" y="31.5" width="1" height="7.5" fill="#2f8465"/>
<rect x="955" y="27.4" width="1" height="8" fill="#2f8465"/>
<rect x="954" y="31.2" width="3" height="3" fill="#2f8465"/>
<rect x="959" y="26.2" width="1" height="8" fill="#2f8465"/>
<rect x="958" y="28.8" width="3" height="2.4" fill="#2f8465"/>
<rect x="963" y="21" width="1" height="8.4" fill="#2f8465"/>
<rect x="962" y="22.8" width="3" height="6" fill="#2f8465"/>
<rect x="968" y="21.4" width="1" height="3.6" fill="#2f8465"/>
<rect x="972" y="22.2" width="1" height="4" fill="#2f8465"/>
<rect x="971" y="22.2" width="3" height="1.2" fill="#2f8465"/>
<rect x="977" y="15.9" width="1" height="8.7" fill="#2f8465"/>
<rect x="976" y="17.8" width="3" height="4.4" fill="#2f8465"/>
<path d="M0,165.8 C4,166.6 16,168.9 24,170.6 C32,172.3 40,174.1 48,176 C56,177.9 64,180.12 72,182 C80,183.88 90,186.15 96,187.3 C102,188.45 104.67,188.57 108,188.9 C111.33,189.23 113.33,189.28 116,189.3 C118.67,189.32 121.33,189.12 124,189 C126.67,188.88 128.67,188.73 132,188.6 C135.33,188.47 140,188.4 144,188.2 C148,188 152,187.72 156,187.4 C160,187.08 164,186.8 168,186.3 C172,185.8 176,185.1 180,184.4 C184,183.7 186,183.28 192,182.1 C198,180.92 208,178.9 216,177.3 C224,175.7 232,174.18 240,172.5 C248,170.82 256,169.13 264,167.2 C272,165.27 280,162.9 288,160.9 C296,158.9 304,157.12 312,155.2 C320,153.28 328,151.4 336,149.4 C344,147.4 354.33,144.73 360,143.2 C365.67,141.67 364.33,141.73 370,140.2 C375.67,138.67 386,135.83 394,134 C402,132.17 410,130.83 418,129.2 C426,127.57 434,126.12 442,124.2 C450,122.28 458,119.92 466,117.7 C474,115.48 482,113.23 490,110.9 C498,108.57 506,106.15 514,103.7 C522,101.25 532,97.95 538,96.2 C544,94.45 546,94.1 550,93.2 C554,92.3 556,91.72 562,90.8 C568,89.88 579.67,88.42 586,87.7 C592.33,86.98 593.67,87.32 600,86.5 C606.33,85.68 616,84.33 624,82.8 C632,81.27 640,79.22 648,77.3 C656,75.38 664,73.1 672,71.3 C680,69.5 688,67.9 696,66.5 C704,65.1 712,63.98 720,62.9 C728,61.82 736,60.92 744,60 C752,59.08 760,58.23 768,57.4 C776,56.57 784,55.82 792,55 C800,54.18 808,53.33 816,52.5 C824,51.67 832.67,50.75 840,50 C847.33,49.25 852.5,48.72 860,48 C867.5,47.28 876.67,46.38 885,45.7 C893.33,45.02 902.83,44.4 910,43.9 C917.17,43.4 921.33,43.15 928,42.7 C934.67,42.25 941.83,41.72 950,41.2 C958.17,40.68 972.5,39.87 977,39.6" fill="none" stroke="#1616cc" stroke-width="1.9" stroke-linejoin="round"/>
<rect x="0" y="18" width="1012" height="1" fill="#26334f"/>
<path d="M0,258.3 C1.4,258.85 5.6,260.35 8.4,261.6 C11.2,262.85 14,264.32 16.8,265.8 C19.6,267.28 22.4,268.82 25.2,270.5 C28,272.18 30.8,274.02 33.6,275.9 C36.4,277.78 39.2,279.98 42,281.8 C44.8,283.62 47.6,285.32 50.4,286.8 C53.2,288.28 56,289.3 58.8,290.7 C61.6,292.1 64.4,293.62 67.2,295.2 C70,296.78 72.8,298.8 75.6,300.2 C78.4,301.6 81.77,303.03 84,303.6 C86.23,304.17 87.05,304.03 89,303.6 C90.95,303.17 93.18,302.27 95.7,301 C98.22,299.73 101.58,297.67 104.1,296 C106.62,294.33 108.57,292.82 110.8,291 C113.03,289.18 114.98,287.33 117.5,285.1 C120.02,282.87 123.1,280.12 125.9,277.6 C128.7,275.08 131.5,272.52 134.3,270 C137.1,267.48 139.9,264.73 142.7,262.5 C145.5,260.27 148.3,258.15 151.1,256.6 C153.9,255.05 156.7,253.97 159.5,253.2 C162.3,252.43 164.48,252.23 167.9,252 C171.32,251.77 176.3,251.6 180,251.8 C183.7,252 187.02,252.27 190.1,253.2 C193.18,254.13 195.7,255.85 198.5,257.4 C201.3,258.95 204.1,260.82 206.9,262.5 C209.7,264.18 212.5,265.83 215.3,267.5 C218.1,269.17 220.9,270.68 223.7,272.5 C226.5,274.32 229.3,276.57 232.1,278.4 C234.9,280.23 237.7,282.1 240.5,283.5 C243.3,284.9 246.1,285.88 248.9,286.8 C251.7,287.72 254.78,288.63 257.3,289 C259.82,289.37 261.77,289.37 264,289 C266.23,288.63 268.18,287.72 270.7,286.8 C273.22,285.88 276.3,284.53 279.1,283.5 C281.9,282.47 284.7,281.45 287.5,280.6 C290.3,279.75 293.1,279.05 295.9,278.4 C298.7,277.75 301.5,277.33 304.3,276.7 C307.1,276.07 309.9,275.3 312.7,274.6 C315.5,273.9 318.3,273.12 321.1,272.5 C323.9,271.88 326.7,271.73 329.5,270.9 C332.3,270.07 335.38,268.48 337.9,267.5 C340.42,266.52 342.02,265.83 344.6,265 C347.18,264.17 350.53,263.25 353.4,262.5 C356.27,261.75 359,261.07 361.8,260.5 C364.6,259.93 367.4,259.38 370.2,259.1 C373,258.82 375.8,258.75 378.6,258.8 C381.4,258.85 384.2,259.4 387,259.4 C389.8,259.4 392.03,258.98 395.4,258.8 C398.77,258.62 403.83,258.38 407.2,258.3 C410.57,258.22 412.8,258.22 415.6,258.3 C418.4,258.38 421.22,258.52 424,258.8 C426.78,259.08 429.52,259.62 432.3,260 C435.08,260.38 437.9,260.83 440.7,261.1 C443.5,261.37 446.3,261.65 449.1,261.6 C451.9,261.55 454.7,260.93 457.5,260.8 C460.3,260.67 463.1,260.58 465.9,260.8 C468.7,261.02 471.5,261.32 474.3,262.1 C477.1,262.88 479.9,264.18 482.7,265.5 C485.5,266.82 488.3,268.42 491.1,270 C493.9,271.58 496.7,273.45 499.5,275 C502.3,276.55 505.38,278.08 507.9,279.3 C510.42,280.52 512.85,281.68 514.6,282.3 C516.35,282.92 516.37,282.72 518.4,283 C520.43,283.28 524,284.07 526.8,284 C529.6,283.93 532.4,282.97 535.2,282.6 C538,282.23 540.8,282.02 543.6,281.8 C546.4,281.58 549.2,281.3 552,281.3 C554.8,281.3 557.6,281.43 560.4,281.8 C563.2,282.17 566,282.75 568.8,283.5 C571.6,284.25 574.42,285.27 577.2,286.3 C579.98,287.33 582.7,288.5 585.5,289.7 C588.3,290.9 591.2,292.58 594,293.5 C596.8,294.42 599.52,295 602.3,295.2 C605.08,295.4 607.9,295.12 610.7,294.7 C613.5,294.28 616.3,293.53 619.1,292.7 C621.9,291.87 624.7,290.82 627.5,289.7 C630.3,288.58 633.1,287.12 635.9,286 C638.7,284.88 641.5,283.98 644.3,283 C647.1,282.02 649.9,280.95 652.7,280.1 C655.5,279.25 658.3,278.47 661.1,277.9 C663.9,277.33 666.7,276.98 669.5,276.7 C672.3,276.42 675.03,276.33 677.9,276.2 C680.77,276.07 683.83,275.67 686.7,275.9 C689.57,276.13 692.02,276.82 695.1,277.6 C698.18,278.38 702.12,279.82 705.2,280.6 C708.28,281.38 710.8,281.73 713.6,282.3 C716.4,282.87 719.2,283.38 722,284 C724.8,284.62 727.6,285.25 730.4,286 C733.2,286.75 736,287.62 738.8,288.5 C741.6,289.38 744.4,290.38 747.2,291.3 C750,292.22 752.8,293.07 755.6,294 C758.4,294.93 761.48,296.23 764,296.9 C766.52,297.57 768.47,297.87 770.7,298 C772.93,298.13 775.17,298.03 777.4,297.7 C779.63,297.37 781.3,296.78 784.1,296 C786.9,295.22 791.12,293.97 794.2,293 C797.28,292.03 799.8,291.03 802.6,290.2 C805.4,289.37 808.2,288.85 811,288 C813.8,287.15 816.6,286.27 819.4,285.1 C822.2,283.93 825.28,282.4 827.8,281 C830.32,279.6 832.27,277.97 834.5,276.7 C836.73,275.43 838.97,274.37 841.2,273.4 C843.43,272.43 845.03,271.75 847.9,270.9 C850.77,270.05 855.25,268.92 858.4,268.3 C861.55,267.68 864,267.12 866.8,267.2 C869.6,267.28 872.4,268.18 875.2,268.8 C878,269.42 880.8,270.22 883.6,270.9 C886.4,271.58 889.2,272.28 892,272.9 C894.8,273.52 897.6,274.15 900.4,274.6 C903.2,275.05 906,275.43 908.8,275.6 C911.6,275.77 914.68,275.13 917.2,275.6 C919.72,276.07 921.67,277.23 923.9,278.4 C926.13,279.57 928.37,281.28 930.6,282.6 C932.83,283.92 935.07,285.12 937.3,286.3 C939.53,287.48 941.77,288.68 944,289.7 C946.23,290.72 948.45,291.68 950.7,292.4 C952.95,293.12 955.25,293.62 957.5,294 C959.75,294.38 961.97,294.63 964.2,294.7 C966.43,294.77 968.77,294.6 970.9,294.4 C973.03,294.2 975.98,293.65 977,293.5" fill="none" stroke="#f0883e" stroke-width="1.0" stroke-linejoin="round"/>
<path d="M0,260.8 C0.84,261.39 6.72,265.53 8.4,266.7 C10.08,267.87 15.46,271.67 16.8,272.5 C18.14,273.33 20.12,273.65 21.8,275 C23.48,276.35 31.58,284.31 33.6,286 C35.62,287.69 40.32,291.06 42,291.9 C43.68,292.74 48.72,294.02 50.4,294.4 C52.08,294.78 57.46,295.2 58.8,295.7 C60.14,296.2 62.63,298.11 63.8,299.4 C64.97,300.69 69.16,307.59 70.5,308.6 C71.84,309.61 75.94,309.16 77.2,309.5 C78.46,309.84 82.09,312.25 83.1,312 C84.11,311.75 86.46,308.18 87.3,307 C88.14,305.82 90.49,301.63 91.5,300.2 C92.51,298.77 96.14,293.95 97.4,292.7 C98.66,291.45 102.93,288.96 104.1,287.7 C105.27,286.44 107.76,281.95 109.1,280.1 C110.44,278.25 115.82,271.05 117.5,269.2 C119.18,267.35 124.22,262.94 125.9,261.6 C127.58,260.26 132.62,257.06 134.3,255.8 C135.98,254.54 141.19,250.05 142.7,249 C144.21,247.95 147.89,245.6 149.4,245.3 C150.91,245 156.12,245.43 157.8,246 C159.48,246.57 163.98,250.44 166.2,251 C168.42,251.56 177.94,251.26 180,251.6 C182.06,251.94 185.45,253.65 186.8,254.4 C188.15,255.15 192.33,258.04 193.5,259.1 C194.67,260.16 197.16,263.82 198.5,265 C199.84,266.18 205.38,270.01 206.9,270.9 C208.42,271.79 212.52,273.43 213.7,273.9 C214.88,274.37 217.7,274.81 218.7,275.6 C219.7,276.39 222.69,280.68 223.7,281.8 C224.71,282.92 227.79,285.85 228.8,286.8 C229.81,287.75 232.8,290.63 233.8,291.3 C234.8,291.97 237.62,293.23 238.8,293.5 C239.98,293.77 244.08,294.05 245.6,294 C247.12,293.95 252.49,293.21 254,293 C255.51,292.79 259.53,292.35 260.7,291.9 C261.87,291.45 264.7,289.26 265.7,288.5 C266.7,287.74 269.36,285.14 270.7,284.3 C272.04,283.46 277.42,280.94 279.1,280.1 C280.78,279.26 285.82,276.45 287.5,275.9 C289.18,275.35 294.22,274.85 295.9,274.6 C297.58,274.35 302.62,273.77 304.3,273.4 C305.98,273.03 311.02,271.36 312.7,270.9 C314.38,270.44 319.42,269.06 321.1,268.8 C322.78,268.54 328.16,268.68 329.5,268.3 C330.84,267.92 333.32,265.83 334.5,265 C335.68,264.17 340.25,260.72 341.3,260 C342.35,259.28 343.95,258.09 345,257.8 C346.05,257.51 350.62,257.05 351.8,257.1 C352.98,257.15 355.8,258.33 356.8,258.3 C357.8,258.27 360.63,257 361.8,256.8 C362.97,256.6 366.99,256.2 368.5,256.3 C370.01,256.4 375.38,257.43 376.9,257.8 C378.42,258.17 382.35,259.84 383.7,260 C385.05,260.16 389.06,259.57 390.4,259.4 C391.74,259.23 395.59,258.5 397.1,258.3 C398.61,258.1 404.24,257.62 405.5,257.4 C406.76,257.18 408.86,256.1 409.7,256.1 C410.54,256.1 412.81,257.01 413.9,257.4 C414.99,257.79 419.09,259.58 420.6,260 C422.11,260.42 427.49,261.15 429,261.6 C430.51,262.05 434.19,264.21 435.7,264.5 C437.21,264.79 442.76,264.79 444.1,264.5 C445.44,264.21 447.76,262.11 449.1,261.6 C450.44,261.09 456.15,259.51 457.5,259.4 C458.85,259.29 461.59,260.16 462.6,260.5 C463.61,260.84 466.6,262.44 467.6,262.8 C468.6,263.16 471.42,263.46 472.6,264.1 C473.78,264.74 478.05,268.11 479.4,269.2 C480.75,270.29 484.76,273.91 486.1,275 C487.44,276.09 491.46,279.17 492.8,280.1 C494.14,281.03 497.99,283.58 499.5,284.3 C501.01,285.02 506.39,286.86 507.9,287.3 C509.41,287.74 513.55,288.58 514.6,288.7 C515.65,288.82 517.35,288.94 518.4,288.5 C519.45,288.06 523.76,285.09 525.1,284.3 C526.44,283.51 530.46,281.1 531.8,280.6 C533.14,280.1 537.32,279.35 538.5,279.3 C539.68,279.25 542.25,279.85 543.6,280.1 C544.95,280.35 550.32,281.51 552,281.8 C553.68,282.09 558.89,282.75 560.4,283 C561.91,283.25 565.76,283.75 567.1,284.3 C568.44,284.85 572.46,287.49 573.8,288.5 C575.14,289.51 579.16,293.23 580.5,294.4 C581.84,295.57 585.85,299.4 587.2,300.2 C588.55,301 592.82,302.31 594,302.4 C595.18,302.49 597.83,301.82 599,301.1 C600.17,300.38 604.36,296.29 605.7,295.2 C607.04,294.11 611.06,291.04 612.4,290.2 C613.74,289.36 617.59,287.39 619.1,286.8 C620.61,286.21 625.82,284.97 627.5,284.3 C629.18,283.63 634.22,280.86 635.9,280.1 C637.58,279.34 642.62,277.24 644.3,276.7 C645.98,276.16 651.02,274.95 652.7,274.7 C654.38,274.45 659.42,274.2 661.1,274.2 C662.78,274.2 667.82,274.53 669.5,274.7 C671.18,274.87 676.56,275.72 677.9,275.9 C679.24,276.08 682.05,276.7 682.9,276.5 C683.75,276.3 685.68,273.83 686.4,273.9 C687.12,273.97 689.06,276.33 690.1,277.2 C691.14,278.07 695.46,281.86 696.8,282.6 C698.14,283.34 701.99,284.4 703.5,284.6 C705.01,284.8 710.56,284.38 711.9,284.6 C713.24,284.82 715.72,286.49 716.9,286.8 C718.08,287.11 722.35,287.41 723.7,287.7 C725.05,287.99 728.89,289.2 730.4,289.7 C731.91,290.2 737.12,292.03 738.8,292.7 C740.48,293.37 745.52,295.65 747.2,296.4 C748.88,297.15 753.84,299.48 755.6,300.2 C757.36,300.92 763.29,303.76 764.8,303.6 C766.31,303.44 769.44,299.52 770.7,298.6 C771.96,297.68 776.06,295.07 777.4,294.4 C778.74,293.73 782.42,292.54 784.1,291.9 C785.78,291.26 792.35,288.68 794.2,288 C796.05,287.32 800.92,285.6 802.6,285.1 C804.28,284.6 809.49,283.55 811,283 C812.51,282.45 816.36,280.56 817.7,279.6 C819.04,278.64 823.06,274.58 824.4,273.4 C825.74,272.22 829.59,268.59 831.1,267.8 C832.61,267.01 837.82,265.68 839.5,265.5 C841.18,265.32 846.18,266.1 847.9,266 C849.62,265.9 855.23,264.65 856.7,264.5 C858.17,264.35 861.42,264.28 862.6,264.5 C863.78,264.72 867.24,266.1 868.5,266.7 C869.76,267.3 873.69,269.67 875.2,270.5 C876.71,271.33 881.92,274.29 883.6,275 C885.28,275.71 890.32,277.26 892,277.6 C893.68,277.94 898.72,278.49 900.4,278.4 C902.08,278.31 907.21,276.95 908.8,276.7 C910.39,276.45 915.13,275.47 916.3,275.9 C917.47,276.33 919.57,279.79 920.5,281 C921.43,282.21 924.59,286.75 925.6,288 C926.61,289.25 929.43,292.66 930.6,293.5 C931.77,294.34 935.79,295.89 937.3,296.4 C938.81,296.91 944.02,298.38 945.7,298.6 C947.38,298.82 952.59,298.77 954.1,298.6 C955.61,298.43 959.46,297.29 960.8,296.9 C962.14,296.51 966.32,295.09 967.5,294.7 C968.68,294.31 971.65,293.45 972.6,293 C973.55,292.55 976.56,290.48 977,290.2" fill="none" stroke="#2b3fd6" stroke-width="1.0" stroke-linejoin="round"/>
<rect x="-1.4" y="291" width="3" height="3" fill="#eb1010"/>
<rect x="3" y="291" width="3" height="3.4" fill="#eb1010"/>
<rect x="7.4" y="291" width="3" height="5.9" fill="#eb1010"/>
<rect x="11.8" y="291" width="3" height="7" fill="#eb1010"/>
<rect x="16.2" y="291" width="3" height="8.4" fill="#eb1010"/>
<rect x="20.61" y="291" width="3" height="9.2" fill="#eb1010"/>
<rect x="25.01" y="291" width="3" height="10" fill="#eb1010"/>
<rect x="29.41" y="291" width="3" height="11" fill="#eb1010"/>
<rect x="33.81" y="291" width="3" height="11.4" fill="#eb1010"/>
<rect x="38.21" y="291" width="3" height="12.1" fill="#eb1010"/>
<rect x="42.61" y="291" width="3" height="11.8" fill="#eb1010"/>
<rect x="47.01" y="291" width="3" height="12.6" fill="#eb1010"/>
<rect x="51.41" y="291" width="3" height="12.1" fill="#eb1010"/>
<rect x="55.81" y="291" width="3" height="11" fill="#eb1010"/>
<rect x="60.21" y="291" width="3" height="9.2" fill="#eb1010"/>
<rect x="64.61" y="291" width="3" height="11" fill="#eb1010"/>
<rect x="69.02" y="291" width="3" height="12.6" fill="#eb1010"/>
<rect x="73.42" y="291" width="3" height="11" fill="#eb1010"/>
<rect x="77.82" y="291" width="3" height="9.2" fill="#eb1010"/>
<rect x="82.22" y="291" width="3" height="8.4" fill="#eb1010"/>
<rect x="86.62" y="291" width="3" height="1.7" fill="#eb1010"/>
<rect x="91.02" y="288" width="3" height="3.4" fill="#1fe81f"/>
<rect x="95.42" y="284.3" width="3" height="7.1" fill="#1fe81f"/>
<rect x="99.82" y="284" width="3" height="7.4" fill="#1fe81f"/>
<rect x="104.22" y="280.1" width="3" height="11.3" fill="#1fe81f"/>
<rect x="108.62" y="276.2" width="3" height="15.2" fill="#1fe81f"/>
<rect x="113.03" y="274.6" width="3" height="16.8" fill="#1fe81f"/>
<rect x="117.43" y="274.6" width="3" height="16.8" fill="#1fe81f"/>
<rect x="121.83" y="275" width="3" height="16.4" fill="#1fe81f"/>
<rect x="126.23" y="276.2" width="3" height="15.2" fill="#1fe81f"/>
<rect x="130.63" y="276.7" width="3" height="14.7" fill="#1fe81f"/>
<rect x="135.03" y="277.6" width="3" height="13.8" fill="#1fe81f"/>
<rect x="139.43" y="277.9" width="3" height="13.5" fill="#1fe81f"/>
<rect x="143.83" y="278.1" width="3" height="13.3" fill="#1fe81f"/>
<rect x="148.23" y="278.4" width="3" height="13" fill="#1fe81f"/>
<rect x="152.63" y="280.1" width="3" height="11.3" fill="#1fe81f"/>
<rect x="157.04" y="283.5" width="3" height="7.9" fill="#1fe81f"/>
<rect x="161.44" y="287.7" width="3" height="3.7" fill="#1fe81f"/>
<rect x="165.84" y="289.8" width="3" height="1.6" fill="#1fe81f"/>
<rect x="170.24" y="290.2" width="3" height="1.2" fill="#1fe81f"/>
<rect x="174.64" y="290.2" width="3" height="1.2" fill="#1fe81f"/>
<rect x="179.04" y="290.2" width="3" height="1.2" fill="#1fe81f"/>
<rect x="183.44" y="290.5" width="3" height="0.9" fill="#1fe81f"/>
<rect x="187.84" y="291" width="3" height="2.5" fill="#eb1010"/>
<rect x="192.24" y="291" width="3" height="4.2" fill="#eb1010"/>
<rect x="196.64" y="291" width="3" height="7.6" fill="#eb1010"/>
<rect x="201.05" y="291" width="3" height="9.2" fill="#eb1010"/>
<rect x="205.45" y="291" width="3" height="9.7" fill="#eb1010"/>
<rect x="209.85" y="291" width="3" height="10.1" fill="#eb1010"/>
<rect x="214.25" y="291" width="3" height="9.2" fill="#eb1010"/>
<rect x="218.65" y="291" width="3" height="8.4" fill="#eb1010"/>
<rect x="223.05" y="291" width="3" height="11.8" fill="#eb1010"/>
<rect x="227.45" y="291" width="3" height="13.1" fill="#eb1010"/>
<rect x="231.85" y="291" width="3" height="13.8" fill="#eb1010"/>
<rect x="236.25" y="291" width="3" height="13.1" fill="#eb1010"/>
<rect x="240.65" y="291" width="3" height="10.9" fill="#eb1010"/>
<rect x="245.06" y="291" width="3" height="9.2" fill="#eb1010"/>
<rect x="249.46" y="291" width="3" height="7.6" fill="#eb1010"/>
<rect x="253.86" y="291" width="3" height="5" fill="#eb1010"/>
<rect x="258.26" y="291" width="3" height="3.4" fill="#eb1010"/>
<rect x="262.66" y="291" width="3" height="1.7" fill="#eb1010"/>
<rect x="267.06" y="288" width="3" height="3.4" fill="#1fe81f"/>
<rect x="271.46" y="287.3" width="3" height="4.1" fill="#1fe81f"/>
<rect x="275.86" y="286.3" width="3" height="5.1" fill="#1fe81f"/>
<rect x="280.26" y="285.6" width="3" height="5.8" fill="#1fe81f"/>
<rect x="284.67" y="284.6" width="3" height="6.8" fill="#1fe81f"/>
<rect x="289.07" y="285.1" width="3" height="6.3" fill="#1fe81f"/>
<rect x="293.47" y="286.3" width="3" height="5.1" fill="#1fe81f"/>
<rect x="297.87" y="287.3" width="3" height="4.1" fill="#1fe81f"/>
<rect x="302.27" y="287.3" width="3" height="4.1" fill="#1fe81f"/>
<rect x="306.67" y="287.3" width="3" height="4.1" fill="#1fe81f"/>
<rect x="311.07" y="287" width="3" height="4.4" fill="#1fe81f"/>
<rect x="315.47" y="287" width="3" height="4.4" fill="#1fe81f"/>
<rect x="319.87" y="287" width="3" height="4.4" fill="#1fe81f"/>
<rect x="324.27" y="287.7" width="3" height="3.7" fill="#1fe81f"/>
<rect x="328.68" y="288.5" width="3" height="2.9" fill="#1fe81f"/>
<rect x="333.08" y="286.8" width="3" height="4.6" fill="#1fe81f"/>
<rect x="337.48" y="284.3" width="3" height="7.1" fill="#1fe81f"/>
<rect x="341.88" y="283.5" width="3" height="7.9" fill="#1fe81f"/>
<rect x="346.28" y="284" width="3" height="7.4" fill="#1fe81f"/>
<rect x="350.68" y="286" width="3" height="5.4" fill="#1fe81f"/>
<rect x="355.08" y="287.3" width="3" height="4.1" fill="#1fe81f"/>
<rect x="359.48" y="287.3" width="3" height="4.1" fill="#1fe81f"/>
<rect x="363.88" y="287.7" width="3" height="3.7" fill="#1fe81f"/>
<rect x="368.28" y="288.5" width="3" height="2.9" fill="#1fe81f"/>
<rect x="372.69" y="289.7" width="3" height="1.7" fill="#1fe81f"/>
<rect x="377.09" y="290.3" width="3" height="1.1" fill="#1fe81f"/>
<rect x="381.49" y="291" width="3" height="1.3" fill="#eb1010"/>
<rect x="385.89" y="291" width="3" height="1.3" fill="#eb1010"/>
<rect x="394.69" y="290.6" width="3" height="0.8" fill="#1fe81f"/>
<rect x="399.09" y="290.6" width="3" height="0.8" fill="#1fe81f"/>
<rect x="403.49" y="290.6" width="3" height="0.8" fill="#1fe81f"/>
<rect x="407.89" y="289.7" width="3" height="1.7" fill="#1fe81f"/>
<rect x="412.29" y="290.6" width="3" height="0.8" fill="#1fe81f"/>
<rect x="416.69" y="291" width="3" height="1.3" fill="#eb1010"/>
<rect x="421.1" y="291" width="3" height="1.7" fill="#eb1010"/>
<rect x="425.5" y="291" width="3" height="2" fill="#eb1010"/>
<rect x="429.9" y="291" width="3" height="3" fill="#eb1010"/>
<rect x="434.3" y="291" width="3" height="4.2" fill="#eb1010"/>
<rect x="438.7" y="291" width="3" height="3.4" fill="#eb1010"/>
<rect x="443.1" y="291" width="3" height="3" fill="#eb1010"/>
<rect x="451.9" y="290.3" width="3" height="1.1" fill="#1fe81f"/>
<rect x="456.3" y="289.3" width="3" height="2.1" fill="#1fe81f"/>
<rect x="460.7" y="290.3" width="3" height="1.1" fill="#1fe81f"/>
<rect x="465.11" y="291" width="3" height="1.6" fill="#eb1010"/>
<rect x="469.51" y="291" width="3" height="1.7" fill="#eb1010"/>
<rect x="473.91" y="291" width="3" height="4.2" fill="#eb1010"/>
<rect x="478.31" y="291" width="3" height="5.9" fill="#eb1010"/>
<rect x="482.71" y="291" width="3" height="8" fill="#eb1010"/>
<rect x="487.11" y="291" width="3" height="9.7" fill="#eb1010"/>
<rect x="491.51" y="291" width="3" height="10.1" fill="#eb1010"/>
<rect x="495.91" y="291" width="3" height="10.9" fill="#eb1010"/>
<rect x="500.31" y="291" width="3" height="10.1" fill="#eb1010"/>
<rect x="504.71" y="291" width="3" height="9.2" fill="#eb1010"/>
<rect x="509.12" y="291" width="3" height="8.2" fill="#eb1010"/>
<rect x="513.52" y="291" width="3" height="7.3" fill="#eb1010"/>
<rect x="517.92" y="291" width="3" height="5.6" fill="#eb1010"/>
<rect x="522.32" y="291" width="3" height="3.4" fill="#eb1010"/>
<rect x="531.12" y="289.3" width="3" height="2.1" fill="#1fe81f"/>
<rect x="535.52" y="288.5" width="3" height="2.9" fill="#1fe81f"/>
<rect x="539.92" y="289" width="3" height="2.4" fill="#1fe81f"/>
<rect x="544.32" y="290.5" width="3" height="0.9" fill="#1fe81f"/>
<rect x="553.13" y="291" width="3" height="1.3" fill="#eb1010"/>
<rect x="557.53" y="291" width="3" height="1.4" fill="#eb1010"/>
<rect x="561.93" y="291" width="3" height="1.7" fill="#eb1010"/>
<rect x="566.33" y="291" width="3" height="2.5" fill="#eb1010"/>
<rect x="570.73" y="291" width="3" height="3.4" fill="#eb1010"/>
<rect x="575.13" y="291" width="3" height="4.7" fill="#eb1010"/>
<rect x="579.53" y="291" width="3" height="8" fill="#eb1010"/>
<rect x="583.93" y="291" width="3" height="9.2" fill="#eb1010"/>
<rect x="588.33" y="291" width="3" height="10.4" fill="#eb1010"/>
<rect x="592.74" y="291" width="3" height="8" fill="#eb1010"/>
<rect x="597.14" y="291" width="3" height="5.4" fill="#eb1010"/>
<rect x="601.54" y="291" width="3" height="3" fill="#eb1010"/>
<rect x="610.34" y="289" width="3" height="2.4" fill="#1fe81f"/>
<rect x="614.74" y="287.3" width="3" height="4.1" fill="#1fe81f"/>
<rect x="619.14" y="286.3" width="3" height="5.1" fill="#1fe81f"/>
<rect x="623.54" y="285.6" width="3" height="5.8" fill="#1fe81f"/>
<rect x="627.94" y="285.6" width="3" height="5.8" fill="#1fe81f"/>
<rect x="632.34" y="285.1" width="3" height="6.3" fill="#1fe81f"/>
<rect x="636.75" y="284.8" width="3" height="6.6" fill="#1fe81f"/>
<rect x="641.15" y="284.8" width="3" height="6.6" fill="#1fe81f"/>
<rect x="645.55" y="285.1" width="3" height="6.3" fill="#1fe81f"/>
<rect x="649.95" y="285.6" width="3" height="5.8" fill="#1fe81f"/>
<rect x="654.35" y="286.3" width="3" height="5.1" fill="#1fe81f"/>
<rect x="658.75" y="287.3" width="3" height="4.1" fill="#1fe81f"/>
<rect x="663.15" y="288.3" width="3" height="3.1" fill="#1fe81f"/>
<rect x="667.55" y="289" width="3" height="2.4" fill="#1fe81f"/>
<rect x="671.95" y="289.7" width="3" height="1.7" fill="#1fe81f"/>
<rect x="676.35" y="290.5" width="3" height="0.9" fill="#1fe81f"/>
<rect x="685.16" y="288.7" width="3" height="2.7" fill="#1fe81f"/>
<rect x="689.56" y="291" width="3" height="1.4" fill="#eb1010"/>
<rect x="693.96" y="291" width="3" height="4.2" fill="#eb1010"/>
<rect x="698.36" y="291" width="3" height="5.4" fill="#eb1010"/>
<rect x="702.76" y="291" width="3" height="4.7" fill="#eb1010"/>
<rect x="707.16" y="291" width="3" height="3.7" fill="#eb1010"/>
<rect x="711.56" y="291" width="3" height="3" fill="#eb1010"/>
<rect x="715.96" y="291" width="3" height="4.2" fill="#eb1010"/>
<rect x="720.36" y="291" width="3" height="4.2" fill="#eb1010"/>
<rect x="724.76" y="291" width="3" height="3.7" fill="#eb1010"/>
<rect x="729.17" y="291" width="3" height="4.2" fill="#eb1010"/>
<rect x="733.57" y="291" width="3" height="4.2" fill="#eb1010"/>
<rect x="737.97" y="291" width="3" height="4.7" fill="#eb1010"/>
<rect x="742.37" y="291" width="3" height="5.4" fill="#eb1010"/>
<rect x="746.77" y="291" width="3" height="6.4" fill="#eb1010"/>
<rect x="751.17" y="291" width="3" height="6.7" fill="#eb1010"/>
<rect x="755.57" y="291" width="3" height="6.7" fill="#eb1010"/>
<rect x="759.97" y="291" width="3" height="6.4" fill="#eb1010"/>
<rect x="764.37" y="291" width="3" height="6.7" fill="#eb1010"/>
<rect x="768.77" y="291" width="3" height="2.5" fill="#eb1010"/>
<rect x="777.58" y="289" width="3" height="2.4" fill="#1fe81f"/>
<rect x="781.98" y="288.7" width="3" height="2.7" fill="#1fe81f"/>
<rect x="786.38" y="288" width="3" height="3.4" fill="#1fe81f"/>
<rect x="790.78" y="287" width="3" height="4.4" fill="#1fe81f"/>
<rect x="795.18" y="286.3" width="3" height="5.1" fill="#1fe81f"/>
<rect x="799.58" y="286" width="3" height="5.4" fill="#1fe81f"/>
<rect x="803.98" y="286" width="3" height="5.4" fill="#1fe81f"/>
<rect x="808.38" y="286.3" width="3" height="5.1" fill="#1fe81f"/>
<rect x="812.78" y="286" width="3" height="5.4" fill="#1fe81f"/>
<rect x="817.19" y="285.1" width="3" height="6.3" fill="#1fe81f"/>
<rect x="821.59" y="283.5" width="3" height="7.9" fill="#1fe81f"/>
<rect x="825.99" y="281.8" width="3" height="9.6" fill="#1fe81f"/>
<rect x="830.39" y="280.6" width="3" height="10.8" fill="#1fe81f"/>
<rect x="834.79" y="281.8" width="3" height="9.6" fill="#1fe81f"/>
<rect x="839.19" y="283" width="3" height="8.4" fill="#1fe81f"/>
<rect x="843.59" y="285.1" width="3" height="6.3" fill="#1fe81f"/>
<rect x="847.99" y="286.8" width="3" height="4.6" fill="#1fe81f"/>
<rect x="852.39" y="287.3" width="3" height="4.1" fill="#1fe81f"/>
<rect x="856.79" y="288" width="3" height="3.4" fill="#1fe81f"/>
<rect x="861.2" y="288.5" width="3" height="2.9" fill="#1fe81f"/>
<rect x="865.6" y="289.9" width="3" height="1.5" fill="#1fe81f"/>
<rect x="874.4" y="291" width="3" height="2" fill="#eb1010"/>
<rect x="878.8" y="291" width="3" height="3.7" fill="#eb1010"/>
<rect x="883.2" y="291" width="3" height="4.7" fill="#eb1010"/>
<rect x="887.6" y="291" width="3" height="4.7" fill="#eb1010"/>
<rect x="892" y="291" width="3" height="5" fill="#eb1010"/>
<rect x="896.4" y="291" width="3" height="4.2" fill="#eb1010"/>
<rect x="900.8" y="291" width="3" height="3.7" fill="#eb1010"/>
<rect x="905.21" y="291" width="3" height="2.5" fill="#eb1010"/>
<rect x="909.61" y="291" width="3" height="1.4" fill="#eb1010"/>
<rect x="918.41" y="291" width="3" height="3" fill="#eb1010"/>
<rect x="922.81" y="291" width="3" height="7" fill="#eb1010"/>
<rect x="927.21" y="291" width="3" height="10.4" fill="#eb1010"/>
<rect x="931.61" y="291" width="3" height="10.1" fill="#eb1010"/>
<rect x="936.01" y="291" width="3" height="10.4" fill="#eb1010"/>
<rect x="940.41" y="291" width="3" height="9.7" fill="#eb1010"/>
<rect x="944.81" y="291" width="3" height="8" fill="#eb1010"/>
<rect x="949.22" y="291" width="3" height="6.7" fill="#eb1010"/>
<rect x="953.62" y="291" width="3" height="5" fill="#eb1010"/>
<rect x="958.02" y="291" width="3" height="3.7" fill="#eb1010"/>
<rect x="962.42" y="291" width="3" height="2" fill="#eb1010"/>
<rect x="971.22" y="289.9" width="3" height="1.5" fill="#1fe81f"/>
<rect x="975.62" y="288" width="3" height="3.4" fill="#1fe81f"/>
<polyline points="0,350.2 4.2,350.9 8.4,355.9 16.8,355.6 21.8,355.2 30.2,361.5 35.3,361.5 39.5,363.1 44,361.5 48.7,366 57.1,362 61.3,352.6 66.3,366 70.5,367.3 74.7,361 78.9,360.3 83.4,362.6 88.1,354.7 92.3,352.6 96.5,352.2 100.7,354.7 107.5,348.9 114.2,348 120.9,348.5 127.6,347.5 132.6,345.8 139.4,345.2 144.4,343 148.6,342.5 153.6,347.2 157.8,346.3 162.9,351.4 167.9,349.7 174.6,346.6 180,346.3 182.6,347.5 189.3,351.9 193.5,351.9 198.2,356.4 203.6,355.2 212,355.6 219.5,353.9 224.1,362.3 228.8,362.3 233,363.1 237.2,361.5 242.2,358.1 247.2,358.6 250.6,357.3 255.6,354.7 263.2,353.9 268.2,346.8 272.4,349.2 280,348.9 285.9,346.8 292.6,349.7 299.3,349.7 307.7,346.8 312.7,345.5 317.8,345.2 322,343.5 329.5,345.5 333.7,340.1 337.9,338 343.4,338 347.6,341.3 351.8,342.5 356.3,345.2 360.1,341.3 370.2,341.3 373.6,343 378.6,343 382.8,345.5 388.7,342.5 395.4,340.1 403.8,340.1 408.8,338 413.9,344.2 417.6,346.3 422.3,345.2 426.5,343.8 431.5,346.8 435.7,349.7 440.7,345.5 444.9,344.7 448.8,340.1 453.3,340.8 457.5,340.1 461.7,345.2 466.3,351.4 470.1,348 475.2,353.6 479.4,354.2 484.4,358.1 488.6,358.9 492.8,357.6 497.3,360.6 502,358.1 506.2,357.3 510.4,358.1 515,356.9 519.2,356.4 523.4,351.4 528.1,347.2 536,347.5 541.1,351.4 546.1,355.2 553.7,354.7 558.7,353.6 563.7,355.6 567.9,357.6 572.5,361.5 576.3,360.6 580.9,369.3 585.2,365.3 589.8,367 594,362.3 599,357.6 603.2,354.2 610.7,352.6 616.6,350.2 620.8,349.7 625,350.2 629.2,351.4 633.9,347.5 641,347.2 646,345.8 651,347.5 656.1,346.3 660.3,346.8 664.5,349.7 668.7,348.5 672.9,349.2 677.1,350.9 681.3,350.2 686.4,342.5 690.9,358.1 695.1,360.6 701.8,357.6 708.5,354.2 712.7,354.7 717.3,359.3 721.6,355.9 730.4,358.9 735.4,359.8 742.1,361.5 748,364.3 753.9,363.6 760.6,364.3 765.3,366.5 769.8,353.6 778.2,353.1 783.3,355.2 787.5,354.2 791.7,351.4 797.5,351.4 802.6,350.5 809.3,349.7 814.3,347.2 818.5,345.5 822.7,341.8 826.9,339.6 831.1,338.8 836.1,344.2 840.8,343.5 845.4,347.2 849.6,346.8 855,343.8 862.6,343.8 866.8,346.8 873.5,351.4 879.9,355.2 888.6,352.2 893.3,354.2 900.4,350.9 908.8,346.3 914.6,345.8 918.8,356.4 923.9,365.3 928.1,367.7 932.6,360.3 937.3,363.1 945.7,360.6 950.7,360.3 959.1,357.3 964.2,354.7 970.9,354.2 976.4,352.2" fill="none" stroke="#2f49cc" stroke-width="1.0" stroke-linejoin="round" stroke-linecap="butt" />
<rect x="5" y="5" width="76" height="21" fill="#000" fill-opacity="0.6"/>
<rect x="5" y="5" width="2.4" height="21" fill="#3f806b"/>
<text x="16" y="19.0" font-family="'Liberation Sans', sans-serif" font-weight="bold" font-size="11px" fill="#fff">USD/JPY</text>
<rect x="5" y="32" width="90" height="21" fill="#000" fill-opacity="0.6"/>
<rect x="5" y="32" width="2.4" height="21" fill="#1515d0"/>
<text x="16" y="46.0" font-family="'Liberation Sans', sans-serif" font-weight="bold" font-size="11px" fill="#fff">SMA (100,0)</text>
<rect x="5" y="249" width="109" height="21" fill="#000" fill-opacity="0.6"/>
<rect x="5" y="249" width="2.4" height="21" fill="#1515d0"/>
<text x="16" y="263.0" font-family="'Liberation Sans', sans-serif" font-weight="bold" font-size="11px" fill="#fff">MACD (12,26,9)</text>
<rect x="5" y="327" width="110" height="21" fill="#000" fill-opacity="0.6"/>
<rect x="5" y="327" width="2.4" height="21" fill="#35dd35"/>
<text x="16" y="341.0" font-family="'Liberation Sans', sans-serif" font-weight="bold" font-size="11px" fill="#fff">RSI (14,70,30,1)</text>
<text x="1019" y="30.2" text-anchor="start" font-family="'Liberation Sans', sans-serif" font-size="11px" fill="#5e5e5e">147.000</text>
<text x="1019" y="54.2" text-anchor="start" font-family="'Liberation Sans', sans-serif" font-size="11px" fill="#5e5e5e">146.000</text>
<text x="1019" y="78.2" text-anchor="start" font-family="'Liberation Sans', sans-serif" font-size="11px" fill="#5e5e5e">145.000</text>
<text x="1019" y="101.2" text-anchor="start" font-family="'Liberation Sans', sans-serif" font-size="11px" fill="#5e5e5e">144.000</text>
<text x="1019" y="125.2" text-anchor="start" font-family="'Liberation Sans', sans-serif" font-size="11px" fill="#5e5e5e">143.000</text>
<text x="1019" y="148.2" text-anchor="start" font-family="'Liberation Sans', sans-serif" font-size="11px" fill="#5e5e5e">142.000</text>
<text x="1019" y="172.2" text-anchor="start" font-family="'Liberation Sans', sans-serif" font-size="11px" fill="#5e5e5e">141.000</text>
<text x="1019" y="195.2" text-anchor="start" font-family="'Liberation Sans', sans-serif" font-size="11px" fill="#5e5e5e">140.000</text>
<text x="1019" y="219.2" text-anchor="start" font-family="'Liberation Sans', sans-serif" font-size="11px" fill="#5e5e5e">139.000</text>
<text x="1019" y="264.2" text-anchor="start" font-family="'Liberation Sans', sans-serif" font-size="11px" fill="#5e5e5e">0.500</text>
<text x="1019" y="295.2" text-anchor="start" font-family="'Liberation Sans', sans-serif" font-size="11px" fill="#5e5e5e">0.000</text>
<text x="1019" y="361.2" text-anchor="start" font-family="'Liberation Sans', sans-serif" font-size="11px" fill="#5e5e5e">50.000</text>
<text x="1019" y="394.2" text-anchor="start" font-family="'Liberation Sans', sans-serif" font-size="11px" fill="#5e5e5e">0.000</text>
<text x="48.2" y="408" text-anchor="middle" font-family="'Liberation Sans', sans-serif" font-size="11px" fill="#5e5e5e">27</text>
<text x="132.3" y="408" text-anchor="middle" font-family="'Liberation Sans', sans-serif" font-size="11px" font-weight="bold" fill="#5e5e5e">Aug</text>
<text x="241.8" y="408" text-anchor="middle" font-family="'Liberation Sans', sans-serif" font-size="11px" fill="#5e5e5e">7</text>
<text x="378.5" y="408" text-anchor="middle" font-family="'Liberation Sans', sans-serif" font-size="11px" fill="#5e5e5e">14</text>
<text x="514.5" y="408" text-anchor="middle" font-family="'Liberation Sans', sans-serif" font-size="11px" fill="#5e5e5e">21</text>
<text x="651.3" y="408" text-anchor="middle" font-family="'Liberation Sans', sans-serif" font-size="11px" fill="#5e5e5e">28</text>
<text x="757" y="408" text-anchor="middle" font-family="'Liberation Sans', sans-serif" font-size="11px" font-weight="bold" fill="#5e5e5e">Sep</text>
<text x="867" y="408" text-anchor="middle" font-family="'Liberation Sans', sans-serif" font-size="11px" fill="#5e5e5e">7</text>
<text x="977.3" y="408" text-anchor="middle" font-family="'Liberation Sans', sans-serif" font-size="11px" fill="#5e5e5e">13</text>
<path d="M1014.6,18.4 L1021.6,11 L1062.5,11 Q1063.6,11 1063.6,12 L1063.6,24.7 Q1063.6,25.7 1062.5,25.7 L1021.6,25.7 Z" fill="#2d4875"/>
<text x="1019.6" y="22.8" font-family="'Liberation Sans', sans-serif" font-weight="bold" font-size="11px" fill="#fff">147.353</text>
</svg>
</body></html>
